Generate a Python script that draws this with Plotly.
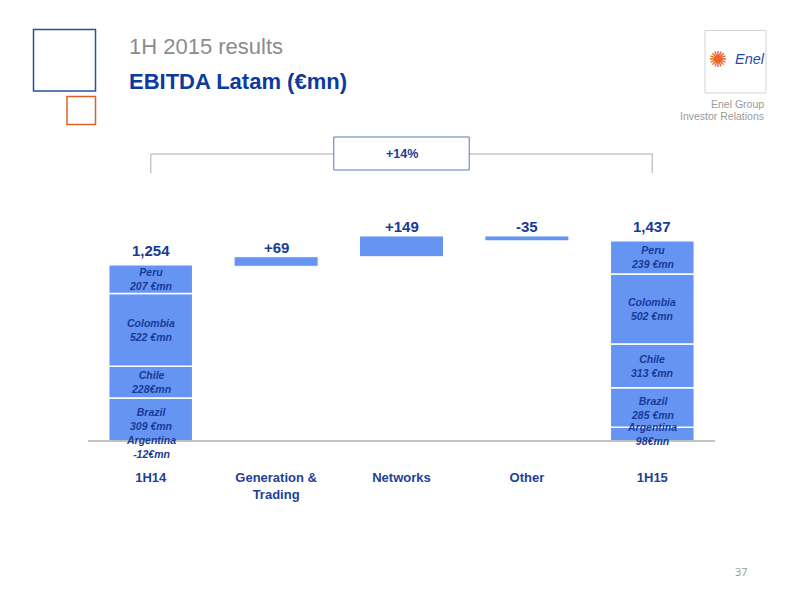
import plotly.graph_objects as go

# ---------------- data ----------------
categories = ["1H14", "Generation &<br>Trading", "Networks", "Other", "1H15"]
countries = ["Argentina", "Brazil", "Chile", "Colombia", "Peru"]
ebitda_1h14 = [-12, 309, 228, 522, 207]
ebitda_1h15 = [98, 285, 313, 502, 239]
unit_labels_1h14 = ["-12€mn", "309 €mn", "228€mn", "522 €mn", "207 €mn"]
unit_labels_1h15 = ["98€mn", "285 €mn", "313 €mn", "502 €mn", "239 €mn"]
delta_categories = ["Generation &<br>Trading", "Networks", "Other"]
delta_values = [69, 149, -35]
growth_label = "+14%"

# ---------------- styles ----------------
BAR = "#6694f2"
DARK = "#163b98"
TEXT_BLUE = "#1f3f99"
FONT = "Liberation Sans, Arial, sans-serif"
W, H = 800, 600
BODY = 8  # page body margin of the html page
L_M, R_M = 88, 85          # screen px of plot edges
PLOT_TOP, PLOT_BOT = 140, 462
ZERO_PX = 441
SCALE = 0.1393  # px per €mn

ymin = -(PLOT_BOT - ZERO_PX) / SCALE
ymax = (ZERO_PX - PLOT_TOP) / SCALE


def px(p):
    return (p - L_M) / (W - L_M - R_M)


def py(p):
    return (PLOT_BOT - p) / (PLOT_BOT - PLOT_TOP)


def stack_bases(vals):
    pos, neg, bases = 0, 0, []
    for v in vals:
        if v >= 0:
            bases.append(pos)
            pos += v
        else:
            bases.append(neg)
            neg += v
    return bases, pos


b14, top14 = stack_bases(ebitda_1h14)
b15, top15 = stack_bases(ebitda_1h15)
total_14 = sum(ebitda_1h14)
total_15 = sum(ebitda_1h15)

fig = go.Figure()

for i, c in enumerate(countries):
    fig.add_trace(go.Bar(
        x=[categories[0], categories[4]],
        y=[ebitda_1h14[i], ebitda_1h15[i]],
        base=[b14[i], b15[i]],
        name=c, width=0.67,
        marker=dict(color=BAR, line=dict(color="white", width=1.5)),
        showlegend=False, hoverinfo="skip",
    ))

running = total_14
delta_bases = []
for d in delta_values:
    delta_bases.append(running)
    running += d

fig.add_trace(go.Bar(
    x=delta_categories, y=delta_values, base=delta_bases, width=0.67,
    marker=dict(color=BAR, line=dict(color="white", width=1)),
    showlegend=False, hoverinfo="skip",
))

ann = []
# segment labels
for cat, vals, bases, labs in [(categories[0], ebitda_1h14, b14, unit_labels_1h14),
                               (categories[4], ebitda_1h15, b15, unit_labels_1h15)]:
    for c, v, b, lab in zip(countries, vals, bases, labs):
        if v < 0:
            yv, anchor, shift = b + v, "top", 11
        else:
            yv, anchor, shift = b + v / 2, "middle", 0
        ann.append(dict(x=cat, y=yv, xref="x", yref="y", xanchor="center", yanchor=anchor,
                        yshift=shift,
                        text=f"<b><i>{c}</i></b><br><b><i>{lab}</i></b>", showarrow=False,
                        font=dict(family=FONT, size=10.5, color=DARK)))

# total labels
for cat, top, tot in [(categories[0], top14, total_14), (categories[4], top15, total_15)]:
    ann.append(dict(x=cat, y=top, xref="x", yref="y", xanchor="center", yanchor="bottom",
                    yshift=4, text=f"<b>{tot:,}</b>", showarrow=False,
                    font=dict(family=FONT, size=15, color=DARK)))

# delta labels
for cat, b, d in zip(delta_categories, delta_bases, delta_values):
    ann.append(dict(x=cat, y=max(b, b + d), xref="x", yref="y", xanchor="center",
                    yanchor="bottom", yshift=-1,
                    text=f"<b>{d:+d}</b>", showarrow=False,
                    font=dict(family=FONT, size=15, color=DARK)))

# growth box label
ann.append(dict(x=2, y=py(154), xref="x", yref="paper", xanchor="center", yanchor="middle",
                text=f"<b>{growth_label}</b>", showarrow=False,
                font=dict(family=FONT, size=12.5, color=DARK)))

# titles
ann.append(dict(x=px(127), y=py(47), xref="paper", yref="paper", xanchor="left", yanchor="middle",
                text="1H 2015 results", showarrow=False,
                font=dict(family=FONT, size=22, color="#8c8c8c")))
ann.append(dict(x=px(127), y=py(81), xref="paper", yref="paper", xanchor="left", yanchor="middle",
                text="<b>EBITDA Latam (€mn)</b>", showarrow=False,
                font=dict(family=FONT, size=22, color="#0c3a9e")))

# logo
ann.append(dict(x=px(718), y=py(60), xref="paper", yref="paper", xanchor="center",
                yanchor="middle", text="✺", showarrow=False,
                font=dict(family="DejaVu Sans", size=22, color="#e8661e")))
ann.append(dict(x=px(750), y=py(59), xref="paper", yref="paper", xanchor="center",
                yanchor="middle", text="<i>Enel</i>", showarrow=False,
                font=dict(family=FONT, size=14.5, color="#1d4fa8")))
ann.append(dict(x=px(766), y=py(104), xref="paper", yref="paper", xanchor="right",
                yanchor="middle", text="Enel Group", showarrow=False,
                font=dict(family=FONT, size=10.5, color="#9a9a9a")))
ann.append(dict(x=px(766), y=py(116), xref="paper", yref="paper", xanchor="right",
                yanchor="middle", text="Investor Relations", showarrow=False,
                font=dict(family=FONT, size=10.5, color="#9a9a9a")))

# page number
ann.append(dict(x=px(742), y=py(571), xref="paper", yref="paper", xanchor="center",
                yanchor="middle", text="37", showarrow=False,
                font=dict(family="Open Sans, sans-serif", size=11, color="#999999")))

shapes = []
GRAY = "#c6c6c6"
# bracket
shapes.append(dict(type="line", xref="x", yref="paper", x0=0, x1=0, y0=py(173), y1=py(154),
                   line=dict(color=GRAY, width=1.5)))
shapes.append(dict(type="line", xref="x", yref="paper", x0=4, x1=4, y0=py(173), y1=py(154),
                   line=dict(color=GRAY, width=1.5)))
shapes.append(dict(type="line", xref="x", yref="paper", x0=0, x1=4, y0=py(154), y1=py(154),
                   line=dict(color=GRAY, width=1.5)))
shapes.append(dict(type="rect", xref="x", yref="paper", x0=1.46, x1=2.54, y0=py(170), y1=py(137),
                   fillcolor="white", line=dict(color="#5b79bd", width=1)))
# baseline
shapes.append(dict(type="line", xref="paper", yref="y", x0=0, x1=1, y0=0, y1=0, layer="above",
                   line=dict(color="#b0b0b0", width=1.5)))
# decorative squares
shapes.append(dict(type="rect", xref="paper", yref="paper", x0=px(33.5), x1=px(95.5),
                   y0=py(91), y1=py(29.5), line=dict(color="#2a4fa0", width=1.5)))
shapes.append(dict(type="rect", xref="paper", yref="paper", x0=px(67), x1=px(95.5),
                   y0=py(124.5), y1=py(96.5), line=dict(color="#e0602a", width=1.5)))
# logo box
shapes.append(dict(type="rect", xref="paper", yref="paper", x0=px(705), x1=px(766),
                   y0=py(93), y1=py(30.5), line=dict(color="#d4d4d4", width=1)))

fig.update_layout(
    width=W, height=H, barmode="overlay",
    margin=dict(l=L_M - BODY, r=R_M + BODY, t=PLOT_TOP - BODY, b=H - PLOT_BOT + BODY),
    paper_bgcolor="white", plot_bgcolor="white",
    annotations=ann, shapes=shapes,
    xaxis=dict(type="category", categoryorder="array", categoryarray=categories,
               range=[-0.5, 4.5], showgrid=False, zeroline=False, showline=False,
               ticks="", ticklabelstandoff=6,
               tickfont=dict(family=FONT, size=13, color=TEXT_BLUE)),
    yaxis=dict(range=[ymin, ymax], visible=False, showgrid=False, zeroline=False),
)

# bold tick labels
fig.update_xaxes(tickvals=categories, ticktext=[f"<b>{c}</b>" for c in categories])

fig.write_html("out.html")
